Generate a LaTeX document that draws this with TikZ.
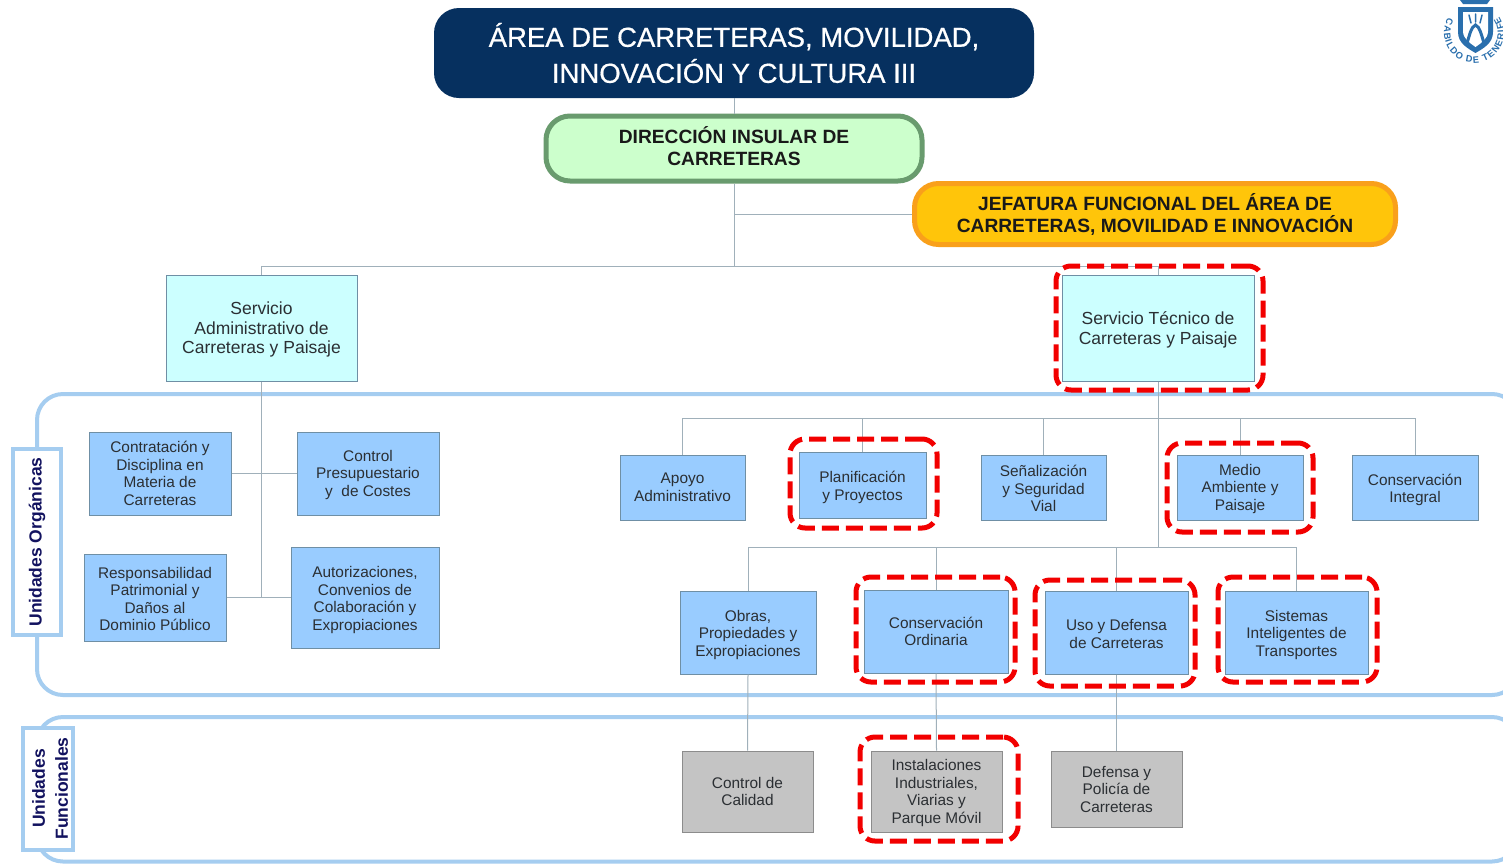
\documentclass[tikz,border=0pt]{standalone}
\usepackage{fontspec}
\setmainfont{Liberation Sans}
\newfontfamily\titlefont[FakeBold=0.6]{Liberation Sans}
\usetikzlibrary{decorations.text}
\definecolor{navy}{HTML}{06305F}
\definecolor{bandblue}{HTML}{A5CDF0}
\definecolor{unitblue}{HTML}{99CCFF}
\definecolor{svcblue}{HTML}{CCFFFF}
\definecolor{lineg}{HTML}{A0B0BA}
\definecolor{edgeg}{HTML}{6F8FA5}
\definecolor{txt}{HTML}{2B2F33}
\definecolor{logoblue}{HTML}{2A6FAD}
\definecolor{labelnavy}{HTML}{12125F}
\newcommand{\tg}{\rule{0pt}{14pt}}
\newcommand{\tgl}{\rule{0pt}{16pt}}
\tikzset{
  sz/.style n args={2}{minimum width=#1pt,minimum height=#2pt},
  boxbase/.style={draw=edgeg,line width=1pt,inner sep=0pt,align=center,text=txt,font=\fontsize{15.4}{17.5}\selectfont},
  unit/.style={boxbase,fill=unitblue},
  svc/.style={boxbase,fill=svcblue,font=\fontsize{17.5}{19.5}\selectfont},
  func/.style={boxbase,fill=black!23,draw=black!45},
  conn/.style={draw=lineg,line width=1pt},
  redbox/.style={draw=red!95!black,line width=5pt,rounded corners=15pt,dash pattern=on 17pt off 7pt,inner sep=0pt},
  band/.style={draw=bandblue,line width=4pt,rounded corners=26pt},
  sidelabel/.style={draw=bandblue,fill=white,line width=4pt,rotate=90,align=center,inner sep=0pt,text=labelnavy,font=\bfseries\fontsize{17.5}{23}\selectfont},
  topbox/.style={inner sep=0pt,align=center,rounded corners=24pt,text=black!90,font=\bfseries\fontsize{19.2}{22}\selectfont},
}
\begin{document}
\begin{tikzpicture}[x=1pt,y=-1pt]
\clip (0,0) rectangle (1503,863);
\fill[white] (0,0) rectangle (1503,863);
% bands
\draw[band] (37,394) rectangle (1518,695);
\draw[band] (37,717) rectangle (1518,861.5);
\node[sidelabel,sz={186}{48}] (lorg) at (37,542) {\raisebox{-2.5pt}{Unidades Orgánicas}};
\node[sidelabel,sz={122}{50}] (lfun) at (48,788.5) {\rule{0pt}{17pt}Unidades\\Funcionales};
% top boxes
\node[fill=navy,rounded corners=25pt,sz={600}{90},inner sep=0pt,align=center,text=white,font=\titlefont\fontsize{27.5}{36}\selectfont] (hdr) at (734,53) {\rule{0pt}{22pt}ÁREA DE CARRETERAS, MOVILIDAD,\\INNOVACIÓN Y CULTURA III};
\node[topbox,draw={rgb,255:red,105;green,155;blue,110},line width=5pt,fill={rgb,255:red,204;green,255;blue,204},sz={376}{65}] (dir) at (734,148.5) {DIRECCIÓN INSULAR DE\\CARRETERAS\rule[-5pt]{0pt}{5pt}};
\node[topbox,draw={rgb,255:red,249;green,160;blue,27},line width=5pt,fill={rgb,255:red,255;green,197;blue,10},sz={481}{61}] (jef) at (1155,214) {JEFATURA FUNCIONAL DEL ÁREA DE\\CARRETERAS, MOVILIDAD E INNOVACIÓN};
% services
\node[svc,sz={191}{106}] (adm) at (261.5,328) {\tgl Servicio\\Administrativo de\\Carreteras y Paisaje};
\node[svc,sz={192}{106}] (tec) at (1158,328) {\rule{0pt}{17pt}Servicio Técnico de\\Carreteras y Paisaje};
% left units
\node[unit,sz={142}{83}] (con) at (160,473.5) {Contratación y\\Disciplina en\\Materia de\\Carreteras};
\node[unit,sz={142}{83}] (pre) at (368,473.5) {\tg Control\\Presupuestario\\y~ de Costes};
\node[unit,sz={142}{87}] (res) at (155,597.5) {\tg Responsabilidad\\Patrimonial y\\Daños al\\Dominio Público};
\node[unit,sz={148}{101}] (aut) at (365,597.5) {\tgl Autorizaciones,\\Convenios de\\Colaboración y\\Expropiaciones};
% first row
\node[unit,sz={125}{65}] (apo) at (682.5,487.5) {Apoyo\\Administrativo};
\node[unit,sz={127}{66}] (pla) at (862.5,485) {\tgl Planificación\\y Proyectos};
\node[unit,sz={125}{65}] (sen) at (1043.5,487.5) {\tg Señalización\\y Seguridad\\Vial};
\node[unit,sz={126}{65}] (med) at (1240,487.5) {\tg Medio\\Ambiente y\\Paisaje};
\node[unit,sz={126}{65}] (cin) at (1415,487.5) {\tgl Conservación\\Integral};
% second row
\node[unit,sz={136}{83}] (obr) at (748,632.5) {\tgl Obras,\\Propiedades y\\Expropiaciones};
\node[unit,sz={144}{83}] (cor) at (936,631.5) {Conservación\\Ordinaria};
\node[unit,sz={143}{83}] (uso) at (1116.5,632.5) {\tg Uso y Defensa\\de Carreteras};
\node[unit,sz={143}{83}] (sis) at (1296.5,632.5) {\tgl Sistemas\\Inteligentes de\\Transportes};
% functional
\node[func,sz={131}{81}] (cal) at (747.5,791.5) {Control de\\Calidad};
\node[func,sz={131}{81}] (ins) at (936.5,791.5) {\tg Instalaciones\\Industriales,\\Viarias y\\Parque Móvil};
\node[func,sz={131}{76}] (def) at (1116.5,789) {Defensa y\\Policía de\\Carreteras};
% junctions
\coordinate (busA) at (734,266);
\coordinate (busB) at (1158,418);
\coordinate (busC) at (1158,547);
\coordinate (jadm2) at (261.5,598);
% connectors
\draw[conn] (hdr.south) -- (dir.north);
\draw[conn] (dir.south) -- (busA);
\draw[conn] (jef.west) -- (jef.west -| dir.south);
\draw[conn] (busA) -| (adm.north);
\draw[conn] (busA) -| (tec.north);
\draw[conn] (adm.south) -- (jadm2);
\draw[conn] (con.east) -- (pre.west);
\draw[conn] (res.east) -- (aut.west);
\draw[conn] (tec.south) -- (busC);
\draw[conn] (busB) -| (apo.north);
\draw[conn] (busB) -| (pla.north);
\draw[conn] (busB) -| (sen.north);
\draw[conn] (busB) -| (med.north);
\draw[conn] (busB) -| (cin.north);
\draw[conn] (busC) -| (obr.north);
\draw[conn] (busC) -| (cor.north);
\draw[conn] (busC) -| (uso.north);
\draw[conn] (busC) -| (sis.north);
\draw[conn] (obr.south) -- (cal.north);
\draw[conn] (cor.south) -- (ins.north);
\draw[conn] (uso.south) -- (def.north);
% red dashed highlights
\node[redbox,sz={207}{124}] (r1) at (1159.5,328) {};
\node[redbox,sz={147}{89}] (r2) at (863.5,483.5) {};
\node[redbox,sz={146}{89}] (r3) at (1240,487.5) {};
\node[redbox,sz={159}{105}] (r4) at (935.5,629.5) {};
\node[redbox,sz={160}{106}] (r5) at (1115,633) {};
\node[redbox,sz={159}{105}] (r6) at (1297.5,629.5) {};
\node[redbox,sz={158}{104}] (r7) at (939,789) {};
% logo
\fill[logoblue] (1460,0) -- (1490,0) -- (1487,4) -- (1463,4) -- cycle;
\fill[logoblue] (1458,7) -- (1493,7) -- (1493,32) .. controls (1493,43) and (1484,48) .. (1475.5,53) .. controls (1467,48) and (1458,43) .. (1458,32) -- cycle;
\fill[white] (1463,12) -- (1488,12) -- (1488,31) .. controls (1488,39) and (1481,43) .. (1475.5,47) .. controls (1470,43) and (1463,39) .. (1463,31) -- cycle;
\draw[logoblue,line width=3pt] (1467,43) .. controls (1470,34) and (1471,27) .. (1475.5,25) .. controls (1480,27) and (1481,34) .. (1484,43);
\draw[logoblue,line width=1.5pt,line cap=round] (1469,15) -- (1471,23) (1475.5,14) -- (1475.5,22) (1482,15) -- (1480,23);
\path[decorate,decoration={text along path,text align={fit to path},text={|\bfseries\fontsize{9.3}{10}\selectfont\color{logoblue}|CABILDO DE TENERIFE}}] (1448,18) arc[start angle=210,end angle=-33,radius=30];
\end{tikzpicture}
\end{document}
